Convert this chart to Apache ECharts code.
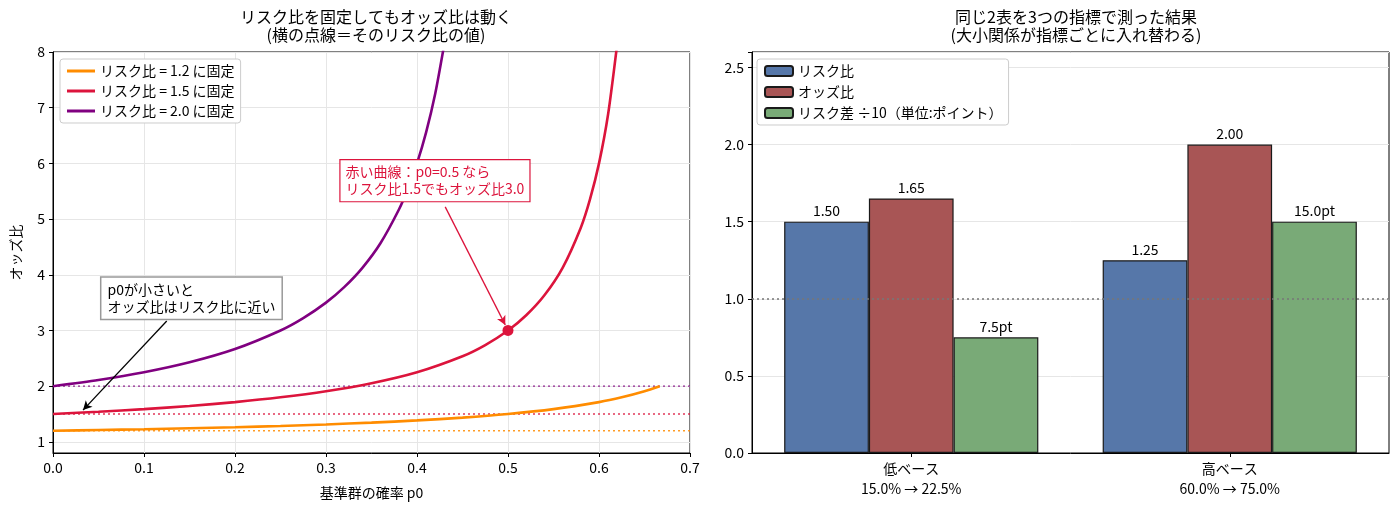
<!DOCTYPE html>
<html>
<head>
<meta charset="utf-8">
<script src="https://cdn.jsdelivr.net/npm/echarts@6/dist/echarts.min.js"></script>
<style>
  html, body { margin: 0; padding: 0; background: #fff; }
  #main { width: 1398px; height: 515px; }
</style>
</head>
<body>
<div id="main"></div>
<script>
// 左：リスク比を固定したときのオッズ比
var p0Orange = [0, 0.05, 0.1, 0.15, 0.2, 0.25, 0.3, 0.35, 0.4, 0.45, 0.5, 0.55, 0.6, 0.625, 0.65, 0.6667];
var orOrange = [1.2, 1.213, 1.227, 1.244, 1.263, 1.286, 1.313, 1.345, 1.385, 1.435, 1.5, 1.588, 1.714, 1.8, 1.909, 2.0];
var p0Red = [0, 0.05, 0.1, 0.15, 0.2, 0.25, 0.3, 0.35, 0.4, 0.45, 0.475, 0.5, 0.52, 0.54, 0.56, 0.58, 0.59, 0.6, 0.61, 0.62];
var orRed = [1.5, 1.541, 1.588, 1.645, 1.714, 1.8, 1.909, 2.053, 2.25, 2.538, 2.739, 3.0, 3.273, 3.632, 4.125, 4.846, 5.348, 6.0, 6.882, 8.143];
var p0Purple = [0, 0.05, 0.1, 0.15, 0.2, 0.25, 0.275, 0.3, 0.32, 0.34, 0.36, 0.38, 0.39, 0.4, 0.41, 0.42, 0.43];
var orPurple = [2.0, 2.111, 2.25, 2.429, 2.667, 3.0, 3.222, 3.5, 3.778, 4.125, 4.571, 5.167, 5.545, 6.0, 6.556, 7.25, 8.143];
var fixedRR = [1.2, 1.5, 2.0];
var curveNames = ['リスク比 = 1.2 に固定', 'リスク比 = 1.5 に固定', 'リスク比 = 2.0 に固定'];
var curveColors = ['#ff8c00', '#dc143c', '#800080'];
var highlightPoint = [0.5, 3.0];
var oddsTicks = [1, 2, 3, 4, 5, 6, 7, 8];

// 右：同じ2表を3指標で
var groups = ['低ベース\n15.0% → 22.5%', '高ベース\n60.0% → 75.0%'];
var riskRatio = [1.50, 1.25];
var oddsRatio = [1.65, 2.00];
var riskDiffPt = [7.5, 15.0];

var font = '"Noto Sans CJK JP", "Noto Sans", sans-serif';

function pairs(xs, ys) {
  return xs.map(function (x, i) { return [x, ys[i]]; });
}

var curves = [pairs(p0Orange, orOrange), pairs(p0Red, orRed), pairs(p0Purple, orPurple)];

var myChart = echarts.init(document.getElementById('main'));

var series = [];
curves.forEach(function (d, i) {
  series.push({
    name: curveNames[i],
    type: 'line',
    xAxisIndex: 0, yAxisIndex: 0,
    data: d,
    symbol: 'none',
    smooth: 0.25,
    lineStyle: { width: 2.6, color: curveColors[i] },
    itemStyle: { color: curveColors[i] },
    z: 3
  });
});
fixedRR.forEach(function (v, i) {
  series.push({
    type: 'line',
    xAxisIndex: 0, yAxisIndex: 0,
    data: [[0, v], [0.7, v]],
    symbol: 'none',
    silent: true,
    lineStyle: { width: 1.4, type: [2, 3], color: curveColors[i], opacity: 0.85 },
    z: 2
  });
});
series.push({
  type: 'scatter',
  xAxisIndex: 0, yAxisIndex: 0,
  data: [highlightPoint],
  symbolSize: 11,
  itemStyle: { color: '#dc143c', opacity: 1 },
  z: 5,
  markPoint: {
    symbol: 'circle', symbolSize: 1,
    itemStyle: { color: 'transparent' },
    data: [
      {
        coord: [0.3154, 5.69],
        label: {
          show: true, position: 'right', distance: 0,
          formatter: '赤い曲線：p0=0.5 なら\nリスク比1.5でもオッズ比3.0',
          color: '#dc143c', fontSize: 14, lineHeight: 17, fontFamily: font,
          backgroundColor: '#fff', borderColor: '#dc143c', borderWidth: 1.2,
          padding: [4, 5, 3, 5]
        }
      },
      {
        coord: [0.0527, 3.58],
        label: {
          show: true, position: 'right', distance: 0,
          formatter: 'p0が小さいと\nオッズ比はリスク比に近い',
          color: '#000', fontSize: 14, lineHeight: 17, fontFamily: font,
          backgroundColor: '#fff', borderColor: '#999', borderWidth: 1.5,
          padding: [4, 6, 3, 6]
        }
      }
    ]
  },
  markLine: {
    silent: true,
    symbol: ['none', 'arrow'],
    symbolSize: [7, 9],
    label: { show: false },
    data: [
      [{ coord: [0.431, 5.22], lineStyle: { color: '#dc143c', width: 1.3, type: 'solid' } }, { coord: [0.497, 3.1] }],
      [{ coord: [0.125, 3.17], lineStyle: { color: '#000', width: 1.3, type: 'solid' } }, { coord: [0.033, 1.57] }]
    ]
  }
});

var barColors = ['#5677a9', '#a85555', '#79aa77'];
var barNames = ['リスク比', 'オッズ比', 'リスク差 ÷10（単位:ポイント）'];
var barData = [riskRatio, oddsRatio, riskDiffPt.map(function (v) { return v / 10; })];
barData.forEach(function (d, i) {
  series.push({
    name: barNames[i],
    type: 'bar',
    xAxisIndex: 1, yAxisIndex: 1,
    data: d,
    barWidth: '26.6%',
    barGap: '0%',
    itemStyle: { color: barColors[i], borderColor: '#1a1a1a', borderWidth: 1.2 },
    label: {
      show: true, position: 'top', distance: 4,
      color: '#000', fontSize: 14, fontFamily: font,
      formatter: function (p) {
        return i === 2 ? riskDiffPt[p.dataIndex].toFixed(1) + 'pt' : p.value.toFixed(2);
      }
    },
    markLine: i === 0 ? {
      silent: true, symbol: 'none',
      label: { show: false },
      lineStyle: { color: '#777', type: [2, 3], width: 1.6 },
      data: [{ yAxis: 1.0 }]
    } : undefined
  });
});

var axisCommon = {
  axisLine: { show: true, lineStyle: { color: '#000', width: 1 } },
  axisTick: { show: true, length: 4, lineStyle: { color: '#000' } },
  axisLabel: { color: '#000', fontSize: 14, fontFamily: font },
  nameTextStyle: { color: '#000', fontSize: 14, fontFamily: font }
};

var titleStyle = { fontSize: 16, fontWeight: 'normal', color: '#000', lineHeight: 18, fontFamily: font };
var lineIcon = 'path://M0,0 L28,0 L28,3 L0,3 Z';

var option = {
  animation: false,
  backgroundColor: '#fff',
  textStyle: { fontFamily: font },
  title: [
    {
      text: 'リスク比を固定してもオッズ比は動く\n(横の点線＝そのリスク比の値)',
      left: 371, top: 3, textAlign: 'center', textStyle: titleStyle
    },
    {
      text: '同じ2表を3つの指標で測った結果\n(大小関係が指標ごとに入れ替わる)',
      left: 1071, top: 3, textAlign: 'center', textStyle: titleStyle
    }
  ],
  legend: [
    {
      data: curveNames.map(function (n) { return { name: n, icon: lineIcon }; }),
      left: 60, top: 59, orient: 'vertical',
      itemWidth: 28, itemHeight: 3, itemGap: 6,
      padding: [5, 6, 5, 7],
      backgroundColor: '#fff', borderColor: '#ccc', borderWidth: 1, borderRadius: 3,
      textStyle: { fontSize: 14, color: '#000', fontFamily: font }
    },
    {
      data: barNames,
      left: 757, top: 59, orient: 'vertical',
      itemWidth: 28, itemHeight: 10, itemGap: 7,
      padding: [5, 6, 5, 7],
      backgroundColor: '#fff', borderColor: '#ccc', borderWidth: 1, borderRadius: 3,
      textStyle: { fontSize: 14, color: '#000', fontFamily: font }
    }
  ],
  grid: [
    { left: 53, right: 708, top: 52, bottom: 62, show: true, borderColor: '#000', borderWidth: 1, backgroundColor: 'transparent' },
    { left: 752, right: 9, top: 52, bottom: 62, show: true, borderColor: '#000', borderWidth: 1, backgroundColor: 'transparent' }
  ],
  xAxis: [
    Object.assign({}, axisCommon, {
      type: 'value', gridIndex: 0, min: 0, max: 0.7, interval: 0.1,
      name: '基準群の確率 p0', nameLocation: 'middle', nameGap: 33,
      axisLabel: Object.assign({}, axisCommon.axisLabel, {
        formatter: function (v) { return v.toFixed(1); }
      }),
      splitLine: { show: true, lineStyle: { color: '#e6e6e6', width: 1 } }
    }),
    Object.assign({}, axisCommon, {
      type: 'category', gridIndex: 1, data: groups,
      axisTick: { show: true, alignWithLabel: true, length: 4, lineStyle: { color: '#000' } },
      axisLabel: Object.assign({}, axisCommon.axisLabel, { lineHeight: 20, margin: 6 }),
      splitLine: { show: false }
    })
  ],
  yAxis: [
    Object.assign({}, axisCommon, {
      type: 'value', gridIndex: 0, min: 0.8, max: 8,
      name: 'オッズ比', nameLocation: 'middle', nameGap: 30, nameRotate: 90,
      axisTick: { show: true, length: 4, lineStyle: { color: '#000' }, customValues: oddsTicks },
      axisLabel: Object.assign({}, axisCommon.axisLabel, { customValues: oddsTicks }),
      splitLine: { show: true, lineStyle: { color: '#e6e6e6', width: 1 } }
    }),
    Object.assign({}, axisCommon, {
      type: 'value', gridIndex: 1, min: 0, max: 2.6, interval: 0.5,
      axisLabel: Object.assign({}, axisCommon.axisLabel, {
        formatter: function (v) { return Math.abs(v * 2 - Math.round(v * 2)) < 1e-6 ? v.toFixed(1) : ''; }
      }),
      splitLine: { show: true, lineStyle: { color: '#e6e6e6', width: 1 } }
    })
  ],
  series: series
};

myChart.setOption(option);
</script>
</body>
</html>
